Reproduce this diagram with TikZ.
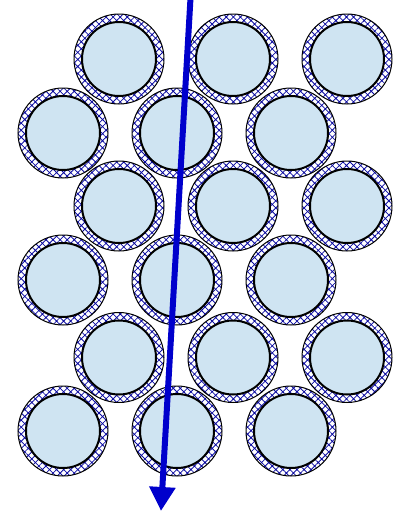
\documentclass[tikz,border=0pt]{standalone}
\usetikzlibrary{patterns.meta,arrows.meta}
\definecolor{tubefill}{RGB}{207,228,242}
\definecolor{hatchblue}{RGB}{10,10,160}
\definecolor{arrowblue}{RGB}{0,0,204}
\tikzset{
  ring/.style={circle, draw=black, line width=1pt, minimum size=90pt, inner sep=0pt,
    pattern={Hatch[angle=45,distance=5pt,line width=0.8pt]}, pattern color=hatchblue},
  core/.style={circle, draw=black, fill=tubefill, line width=2pt, minimum size=74pt, inner sep=0pt},
  beam/.style={draw=arrowblue, line width=6pt, -{Triangle[length=24pt,width=25pt]}}
}
\begin{document}
\begin{tikzpicture}[x=1pt,y=-1pt]
\useasboundingbox (0,0) rectangle (403,512);
\foreach \r/\y/\xo in {1/59/119, 2/133/63, 3/206/119, 4/280/63, 5/357.5/119, 6/431/63}{
  \foreach \c in {0,1,2}{
    \node[ring] (ring-\r-\c) at (\xo+114*\c,\y) {};
    \node[core] (core-\r-\c) at (\xo+114*\c,\y) {};
  }
}
\coordinate (beamstart) at (190.5,-2);
\coordinate (beamend) at (161,511);
\draw[beam] (beamstart) -- (beamend);
\end{tikzpicture}
\end{document}
